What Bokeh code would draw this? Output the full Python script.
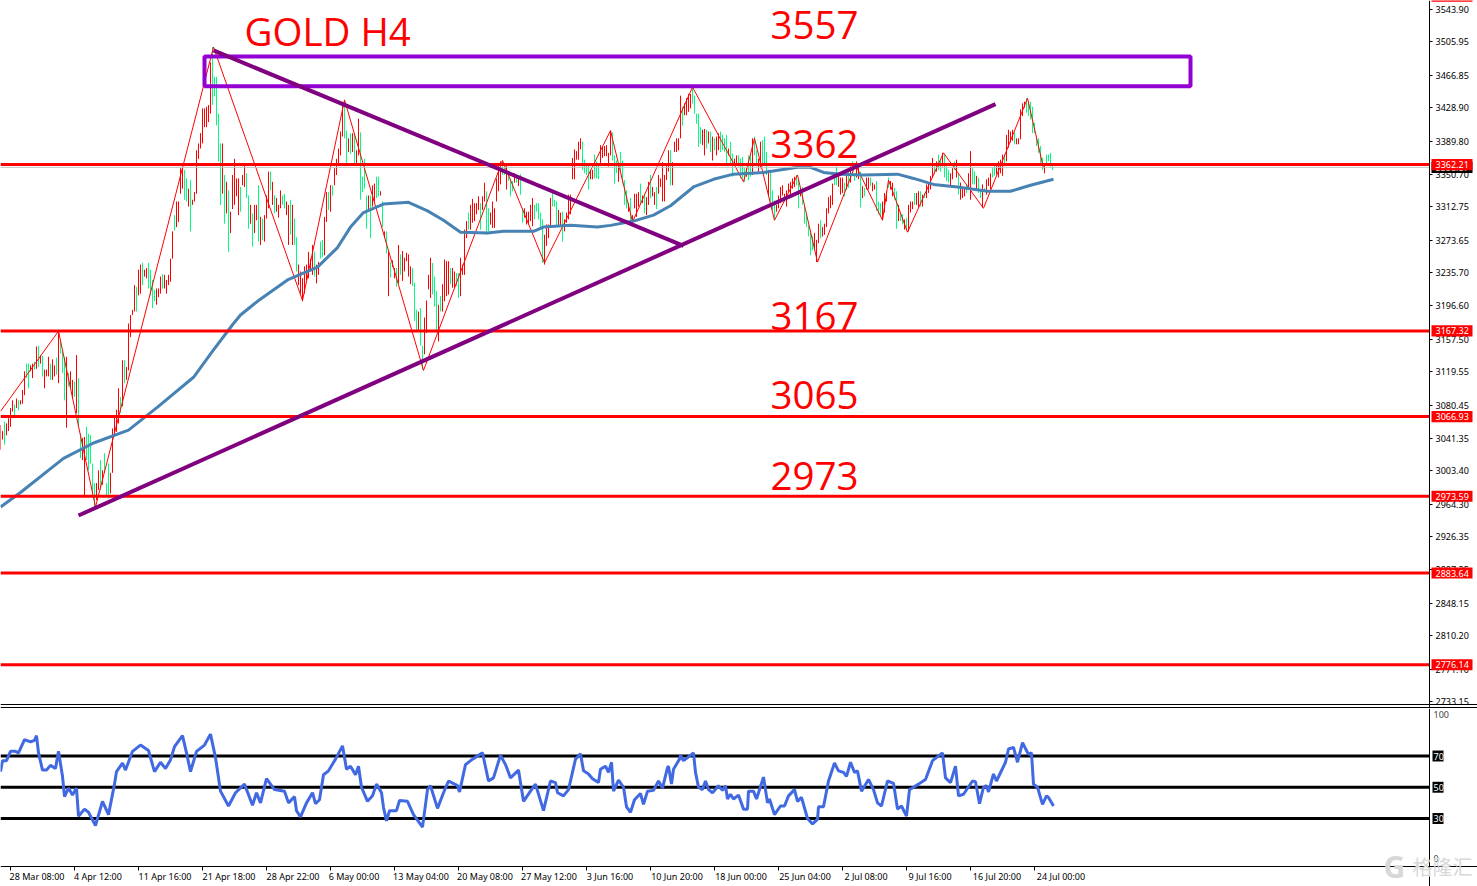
from bokeh.plotting import figure
from bokeh.layouts import column
from bokeh.models import Range1d, FixedTicker, LinearAxis, Label, ColumnDataSource
from bokeh.core.properties import value
from bokeh.embed import file_html
from bokeh.resources import INLINE

bar_high = [
 3057,3050,3061,3059,3065,3077,3086,3081,3088,3086,
 3086,3098,3120,3129,3129,3127,3129,3131,3149,3150,
 3139,3138,3122,3122,3137,3129,3134,3127,3136,3168,
 3157,3143,3137,3137,3118,3120,3110,3108,3139,3112,
 3047,3042,3043,3055,3047,3045,3012,2989,2989,3004,
 3016,3004,3024,2989,3012,3001,3053,3067,3075,3100,
 3090,3133,3133,3125,3176,3186,3192,3221,3219,3239,
 3245,3247,3239,3241,3247,3239,3227,3215,3217,3217,
 3231,3234,3233,3227,3233,3252,3284,3303,3319,3319,
 3358,3358,3356,3346,3334,3344,3321,3330,3379,3387,
 3399,3428,3428,3430,3432,3482,3500,3465,3465,3422,
 3387,3387,3350,3342,3332,3307,3350,3369,3346,3346,
 3336,3350,3364,3352,3326,3315,3305,3315,3315,3338,
 3301,3299,3303,3326,3354,3354,3342,3326,3323,3315,
 3332,3326,3328,3319,3315,3321,3315,3299,3277,3245,
 3237,3229,3243,3245,3260,3252,3268,3260,3245,3248,
 3272,3274,3301,3330,3330,3338,3338,3358,3369,3381,
 3401,3432,3438,3402,3393,3399,3399,3399,3379,3416,
 3400,3348,3369,3326,3326,3326,3338,3340,3348,3348,
 3331,3319,3284,3284,3260,3248,3250,3241,3241,3268,
 3257,3261,3253,3259,3257,3243,3241,3224,3192,3190,
 3194,3150,3183,3203,3233,3253,3247,3231,3214,3198,
 3208,3222,3251,3249,3249,3241,3241,3237,3235,3235,
 3253,3245,3286,3296,3306,3315,3322,3317,3317,3325,
 3317,3325,3341,3331,3311,3306,3319,3311,3346,3362,
 3366,3367,3362,3364,3352,3346,3343,3352,3350,3348,
 3351,3311,3311,3307,3307,3315,3323,3315,3317,3317,
 3306,3298,3280,3292,3292,3323,3331,3321,3319,3309,
 3306,3307,3298,3306,3327,3327,3370,3380,3378,3389,
 3393,3389,3368,3364,3364,3356,3356,3374,3366,3364,
 3385,3384,3384,3385,3376,3402,3400,3373,3367,3363,
 3377,3367,3344,3332,3317,3323,3303,3328,3328,3330,
 3340,3326,3328,3324,3342,3350,3336,3330,3336,3350,
 3346,3365,3350,3362,3379,3379,3365,3389,3393,3393,
 3443,3430,3434,3440,3445,3445,3453,3443,3422,3422,
 3406,3403,3404,3403,3401,3401,3395,3393,3395,3399,
 3401,3397,3393,3397,3381,3389,3375,3369,3373,3373,
 3369,3371,3358,3358,3373,3373,3393,3395,3379,3369,
 3389,3391,3395,3377,3356,3354,3332,3320,3315,3326,
 3336,3338,3328,3332,3340,3342,3346,3348,3350,3344,
 3334,3336,3313,3303,3291,3282,3278,3282,3274,3293,
 3297,3289,3293,3311,3324,3326,3340,3350,3360,3352,
 3347,3347,3341,3351,3356,3360,3366,3352,3366,3360,
 3354,3337,3335,3347,3347,3347,3341,3339,3343,3319,
 3317,3319,3329,3331,3347,3343,3341,3335,3331,3315,
 3306,3304,3298,3300,3315,3319,3319,3329,3329,3331,
 3331,3327,3329,3339,3341,3349,3370,3362,3366,3374,
 3368,3376,3374,3360,3356,3352,3358,3366,3368,3351,
 3341,3335,3335,3339,3352,3378,3358,3354,3349,3347,
 3333,3339,3335,3345,3347,3352,3358,3362,3362,3366,
 3368,3374,3374,3397,3403,3401,3403,3401,3393,3393,
 3427,3434,3436,3440,3436,3436,3430,3411,3395,3393,
 3384,3370,3362,3374,3374,3376,3364]

bar_low = [
 3028,3040,3034,3045,3050,3055,3073,3067,3077,3074,
 3081,3082,3092,3112,3100,3120,3112,3122,3123,3125,
 3129,3114,3100,3114,3114,3110,3110,3114,3116,3106,
 3141,3118,3086,3054,3102,3100,3088,3090,3071,3055,
 3018,3016,2973,3016,3004,3012,2977,2958,2969,2981,
 2981,2987,3001,2973,2971,2977,3001,3043,3049,3059,
 3071,3079,3106,3110,3121,3160,3186,3190,3190,3209,
 3211,3221,3231,3229,3217,3209,3194,3202,3198,3207,
 3211,3217,3217,3211,3221,3225,3252,3285,3289,3295,
 3328,3334,3321,3319,3313,3284,3315,3319,3328,3369,
 3381,3387,3406,3406,3412,3422,3432,3442,3408,3366,
 3315,3328,3293,3305,3260,3282,3310,3315,3325,3303,
 3307,3338,3336,3323,3287,3293,3266,3282,3297,3272,
 3268,3274,3272,3299,3311,3332,3315,3305,3307,3300,
 3311,3315,3311,3303,3268,3280,3268,3268,3237,3221,
 3211,3202,3211,3227,3229,3237,3233,3231,3223,3233,
 3252,3254,3256,3295,3309,3307,3326,3338,3350,3362,
 3373,3395,3393,3362,3377,3375,3377,3364,3364,3373,
 3321,3330,3334,3287,3307,3276,3313,3319,3323,3325,
 3326,3289,3276,3258,3208,3230,3242,3229,3219,3223,
 3233,3226,3237,3249,3231,3222,3220,3179,3167,3168,
 3150,3122,3140,3165,3216,3206,3210,3196,3167,3155,
 3190,3190,3202,3208,3210,3222,3218,3218,3220,3206,
 3208,3233,3233,3276,3286,3286,3294,3296,3304,3309,
 3286,3309,3319,3280,3284,3292,3288,3288,3319,3331,
 3339,3350,3350,3333,3343,3325,3331,3341,3341,3337,
 3327,3294,3300,3292,3292,3296,3290,3298,3307,3298,
 3288,3247,3245,3267,3276,3290,3313,3313,3290,3290,
 3290,3272,3284,3294,3298,3304,3345,3345,3368,3368,
 3380,3356,3352,3350,3333,3345,3345,3346,3346,3345,
 3364,3370,3372,3372,3360,3373,3367,3340,3352,3342,
 3354,3340,3315,3311,3307,3295,3293,3311,3301,3313,
 3315,3317,3305,3303,3315,3323,3325,3315,3310,3328,
 3336,3319,3319,3344,3354,3338,3338,3377,3377,3379,
 3393,3408,3420,3420,3424,3428,3434,3422,3410,3383,
 3387,3385,3373,3381,3387,3377,3367,3379,3373,3379,
 3377,3379,3377,3363,3373,3363,3348,3363,3362,3360,
 3346,3346,3342,3348,3344,3348,3350,3373,3360,3354,
 3358,3360,3363,3350,3325,3319,3309,3297,3307,3311,
 3317,3326,3319,3313,3330,3323,3334,3336,3338,3311,
 3325,3315,3293,3289,3278,3256,3262,3262,3248,3270,
 3276,3278,3280,3289,3305,3311,3315,3338,3338,3336,
 3327,3329,3325,3333,3335,3341,3349,3343,3347,3345,
 3312,3323,3325,3333,3333,3337,3331,3333,3308,3304,
 3302,3298,3306,3319,3335,3333,3325,3321,3287,3296,
 3296,3292,3286,3286,3284,3306,3310,3315,3315,3312,
 3313,3313,3323,3323,3329,3333,3347,3351,3354,3356,
 3354,3360,3347,3343,3341,3337,3345,3356,3347,3327,
 3321,3323,3325,3329,3333,3321,3339,3339,3333,3329,
 3323,3312,3330,3327,3337,3333,3347,3349,3351,3347,
 3352,3349,3364,3366,3382,3388,3390,3386,3386,3386,
 3392,3419,3429,3423,3419,3415,3399,3399,3384,3376,
 3364,3356,3352,3364,3366,3360,3356]

bar_dir = (
 "RRGRRRRGRG" "RRRGGRRGRG" "RGRRRGRRGR" "GGGRGRRGRG" "GRRGGGGGRR"
 "GRGGGRRRRR" "GRGRRRRRGR" "RGRRGGGGRR" "RGRRRRRGRR" "RRGGRGRRRR"
 "RRRRRRGGGG" "GRGRGRRRRR" "GRRGGRGRRG" "RGRRRGRGRR" "RGGRRGRGGR"
 "RRRRRRRGRR" "GGRRGRGRRR" "RRGGRGRGRR" "GGGGRGRRGG" "RGRGRGRRGR"
 "GRRRRRGGGR" "GGRRRRGGGR" "GRRRRGRRGG" "RRRRGRRRRR" "GRRGGRRRRR"
 "RGGRGGGRGR" "GGRRRRRGGG" "GGRRRRGGGR" "RGRRRRRRRR" "RGGGGRRGGG"
 "RRRRRRGGGR" "GGGGRGRRRR" "GRGRRGRRGR" "RRRRRGRRRR" "RGRRRRGGGG"
 "GRRGRGRGRR" "GGGGRGGRRG" "GGGRGGRGGR" "RGGGRGGGRR" "RRRRRRRRGG"
 "RGGGGGGRRR" "GRRRRRRGGR" "RRGRGRGGRR" "GRGRRGRRGG" "GRRRGRRGGR"
 "GGRGRRRGRR" "GRGRRRRGRG" "GRGGGRRGRG" "RRRGRRGGRG" "GRGRRRGGRR"
 "RRGRRRRGRR" "RRRGGGGGGG" "GGRGGGG")

zig_idx = [0,29,47.5,106.5,151,172,211.5,251,272,305,316,346,371.5,377,387,398.5,408.5,427.5,441,444,453.5,471.5,491.5,513.5,521.5]
zig_price = [3073,3167,2961,3500,3203,3438,3121,3367,3247,3402,3295,3453,3342,3393,3297,3350,3248,3362,3297,3344,3283,3376,3311,3440,3358]

ma_idx = [0,10,31.5,46.5,64,78.5,96.5,106.5,116.5,120,128.5,143.5,158.5,165,168.5,175,181.5,191.5,204,213.5,221.5,230,243.5,251.5,266.5,271.5,285,298.5,305,316.5,326.5,335,346.5,356.5,366.5,381.5,398.5,405,411.5,420,431.5,448.5,456.5,466.5,478.5,493.5,505,515,526.5]
ma_price = [2961,2978,3018,3036,3051,3078,3113,3145,3176,3186,3202,3227,3242,3257,3265,3289,3306,3316,3318,3308,3297,3283,3282,3284,3284,3289,3291,3289,3291,3296,3303,3314,3336,3345,3351,3353,3359,3359,3353,3351,3350,3351,3346,3339,3336,3331,3331,3338,3345]

rsi_idx = [0,1,3,5,7.5,9,12,15,17,18,19,21,23,25,27.5,29,31,32,34,36,38,39,42,44,47.5,51,54,57,58,61,62.5,66,70,74,77,80,82.5,85,87,91,93,95,98,102,105,107.5,110,114,117.5,122,126,128,130,133,137,142,144,147,148,
 150,153,156,157.5,159.5,161.5,164,167.5,171,173,175,177.5,179,180.5,183.5,186,188,190.5,191.5,193,194.5,198,199.5,203.5,206.5,208.5,211,213.5,215,218.5,221.5,224,228.5,229.5,232.5,236,241,244,246.5,250,252.5,255,259,261.5,265,267.5,271.5,275,277.5,278.5,281.5,284,287.5,290,291.5,294,296,299,300,302.5,304,305.5,306.5,309,311.5,313,315,317,320,321.5,323.5,326.5,329,331,333.5,334,335.5,336.5,339.5,
 340,341.5,343.5,346.5,347.5,349,351,352.5,354,356,359,361,362.5,363.5,365,366.5,369,371.5,373.5,374,376.5,378,381.5,383.5,384.5,387,390,392,394,397,398.5,400.5,403.5,406,408.5,409,411.5,414,417,419,421.5,423,425,427,428.5,430.5,434,436.5,438.5,440.5,443.5,446.5,448.5,450.5,453,454.5,456.5,459,462.5,466,471,472.5,475,477.5,479,481.5,486,487.5,489.5,491.5,493,494,496.5,498,502.5,504,506.5,508.5,511,514,515.5,516.5,518.5,521,523,524,526.5]
rsi_val = [60,67,67,73,73,72,80.5,79,80,83,72,61,61,64,62,73,57,44,49.5,45,49.5,31.5,36,34,25.5,41,32.5,52,60,65.5,61,73,77,73.5,60,66,62,67.5,76,83,72,60,73,77,84,69,47.5,38,46.5,52,38.5,46.5,40,55.5,48.5,47.5,40,44,35,
 31,40,46.5,39.5,42,58,60.5,68,76.5,61.5,63.5,58,63.5,50,41,44.5,52,46.5,37,28.5,35,35,41.5,41,32.5,29,24.5,48.5,51,36.5,46.5,54,51,47,64.5,68,72,54,56,70.5,64.5,56,61,41,47.5,52,35,54,53,46.5,44.5,48.5,68,71.5,60.5,58.5,55.5,53,61.5,63.5,59.5,66,47.5,54.5,50,37.5,34,42,46,39,47.5,48,54,49.5,62.5,63.5,52,61.5,68,
 70.5,67,69,72,59.5,50,48.5,54,48.5,46.5,51,48,51,42.5,45.5,42.5,45,36,36,47.5,47.5,42.5,56.5,40,42.5,32.5,38,38,44.5,48.5,41,43.5,30,26.5,29.5,37.5,37.5,54,65.5,60.5,59.5,57,66,59.5,60.5,47.5,55,48.5,40,38,54,52.5,36,38,31.5,48.5,50,52,55,67,72,56,53,63.5,44.5,45.5,54,53.5,39.5,50,51,47,58.5,54,66,74.5,75.5,66,78.5,71,72,52,50,39,44.5,43.5,38]

support_idx = [39, 497.5]
support_price = [2951, 3433]
resist_idx = [106.5, 341.5]
resist_price = [3496, 3267]
box_left, box_right, box_top, box_bottom = 102, 595, 3489, 3454

level_prices = [3362.21, 3167.32, 3066.93, 2973.59, 2883.64, 2776.14]
level_tags = ["3362.21", "3167.32", "3066.93", "2973.59", "2883.64", "2776.14"]

note_texts = ["GOLD H4", "3557", "3362", "3167", "3065", "2973"]
note_idx = [122, 385, 385, 385, 385, 385]
note_price = [3519, 3526, 3386, 3185, 3092, 2997]

price_ticks = [3543.90,3505.95,3466.85,3428.90,3389.80,3350.70,3312.75,3273.65,3235.70,3196.60,3157.50,3119.55,3080.45,3041.35,3003.40,2964.30,2926.35,2887.25,2848.15,2810.20,2771.10,2733.15]
date_tick_idx = [5,37,69,101,133,165,197,229,261,293,325,357,389,421,453,485,517]
date_labels = ["28 Mar 08:00","4 Apr 12:00","11 Apr 16:00","21 Apr 18:00","28 Apr 22:00","6 May 00:00","13 May 04:00","20 May 08:00","27 May 12:00","3 Jun 16:00","10 Jun 20:00","18 Jun 00:00","25 Jun 04:00","2 Jul 08:00","9 Jul 16:00","16 Jul 20:00","24 Jul 00:00"]
rsi_levels = [70, 50, 30]

RED = "#ff0000"
GREEN = "#00ff7f"
FONT = "Noto Sans"
TICK_SIZE = "9px"
XSTART, XEND = 0, 738.5
PANE_END = 714.5
TAG_X = 715.5
TAG_END = 736

p = figure(width=1477, height=708, frame_width=1477, frame_height=708,
           x_range=Range1d(XSTART, XEND), y_range=Range1d(2724.86, 3554.5),
           x_axis_location=None, y_axis_location=None, toolbar_location=None, output_backend="svg",
           min_border_left=0, min_border_top=0, min_border_bottom=0, min_border_right=0)
p.grid.visible = False
p.outline_line_color = None
p.add_layout(LinearAxis(fixed_location=2729.5, ticker=FixedTicker(ticks=[]), axis_line_color="#000000"), "below")
p.add_layout(LinearAxis(fixed_location=2726.0, ticker=FixedTicker(ticks=[]), axis_line_color="#000000"), "below")
price_axis = LinearAxis(fixed_location=PANE_END, ticker=FixedTicker(ticks=price_ticks),
                        major_label_overrides={t: f"{t:.2f}" for t in price_ticks},
                        major_tick_in=0, major_tick_out=3, minor_tick_line_color=None,
                        major_tick_line_color="#000000", axis_line_color="#000000",
                        major_label_text_font=FONT, major_label_text_font_size=TICK_SIZE,
                        major_label_text_color="#000000", major_label_standoff=3)
p.add_layout(price_axis, "right")

idx = list(range(len(bar_high)))
colors = [RED if d == "R" else GREEN for d in bar_dir]
bars = ColumnDataSource(dict(x=idx, hi=bar_high, lo=bar_low, c=colors))
p.segment(x0="x", y0="hi", x1="x", y1="lo", line_color="c", line_width=1, source=bars)
p.line(zig_idx, zig_price, line_color=RED, line_width=1)
p.line(ma_idx, ma_price, line_color="#4682b4", line_width=3)
p.line([XSTART, PANE_END], [3359.0, 3359.0], line_color="#c0c0c0", line_width=1)
for lv in level_prices:
    p.line([XSTART, PANE_END], [lv, lv], line_color=RED, line_width=3)
p.quad(left=[box_left], right=[box_right], top=[box_top], bottom=[box_bottom],
       fill_color=None, line_color="#9400d3", line_width=4)
p.line(support_idx, support_price, line_color="#800080", line_width=4)
p.line(resist_idx, resist_price, line_color="#800080", line_width=4)
p.text(note_idx, note_price, text=note_texts, text_color=RED, text_font=value("Open Sans"),
       text_font_size="38.5px", text_baseline="middle", text_align="left")
p.quad(left=[TAG_X], right=[TAG_END], top=[3556], bottom=[3553], fill_color=RED, line_color=None)

def tag(fig, left, right, y, half, text, bg, text_x):
    fig.quad(left=[left], right=[right], top=[y + half], bottom=[y - half], fill_color=bg,
             line_color=None, level="overlay")
    fig.text([text_x], [y], text=[text], text_color="#ffffff", text_font=value(FONT),
             text_font_size=TICK_SIZE, text_baseline="middle", text_align="left", level="overlay")

tag(p, TAG_X, TAG_END, 3358.87, 6.5, "3358.87", "#000000", 717.5)
for lv, t in zip(level_prices, level_tags):
    tag(p, TAG_X, TAG_END, lv, 6.5, t, RED, 717.5)

r = figure(width=1477, height=178, frame_width=1477, frame_height=178,
           x_range=Range1d(XSTART, XEND), y_range=Range1d(-13.52, 100.4),
           x_axis_location=None, y_axis_location=None, toolbar_location=None, output_backend="svg",
           min_border_left=0, min_border_top=0, min_border_bottom=0, min_border_right=0)
r.grid.visible = False
r.outline_line_color = None
r.add_layout(LinearAxis(fixed_location=PANE_END, ticker=FixedTicker(ticks=[]), axis_line_color="#000000"), "right")
tick_axis = LinearAxis(fixed_location=-0.72, ticker=FixedTicker(ticks=date_tick_idx), major_tick_in=0, major_tick_out=4,
                       minor_tick_line_color=None, axis_line_color="#000000",
                       major_label_overrides={t: " " for t in date_tick_idx},
                       major_label_text_font=FONT, major_label_text_font_size="1px", major_label_standoff=0)
r.add_layout(tick_axis, "below")
label_pos = [i + (13.25 if len(t) == 12 else 11.75) for i, t in zip(date_tick_idx, date_labels)]
label_axis = LinearAxis(fixed_location=-0.72, ticker=FixedTicker(ticks=label_pos), major_tick_line_color=None,
                        minor_tick_line_color=None, axis_line_color=None,
                        major_label_overrides=dict(zip(label_pos, date_labels)),
                        major_label_text_font=FONT, major_label_text_font_size=TICK_SIZE,
                        major_label_text_color="#000000", major_label_standoff=-3)
r.add_layout(label_axis, "below")

for lv in rsi_levels:
    r.line([XSTART, PANE_END], [lv, lv], line_color="#000000", line_width=3)
r.line(rsi_idx, rsi_val, line_color="#4169e1", line_width=3)
for lv in rsi_levels:
    tag(r, 716, 721.5, lv, 3.5, str(lv), "#000000", 716.5)
r.add_layout(Label(x=TAG_X, y=100, y_offset=-5, x_offset=2, text="100", text_font=FONT,
                   text_font_size=TICK_SIZE, text_baseline="middle"))
r.add_layout(Label(x=TAG_X, y=0, y_offset=7, x_offset=2, text="0", text_font=FONT,
                   text_font_size=TICK_SIZE, text_baseline="middle"))
r.add_layout(Label(x=691.5, y=-0.9, text="G", text_color="#d8d8d8", text_font="Noto Sans",
                   text_font_style="bold", text_font_size="30px", text_baseline="middle"))
r.add_layout(Label(x=706, y=-0.9, text="格隆汇", text_color="#d8d8d8", text_font="Noto Sans CJK SC",
                   text_font_size="20px", text_baseline="middle"))

layout = column(p, r, spacing=0)
open("out.html", "w").write(file_html(layout, INLINE))
